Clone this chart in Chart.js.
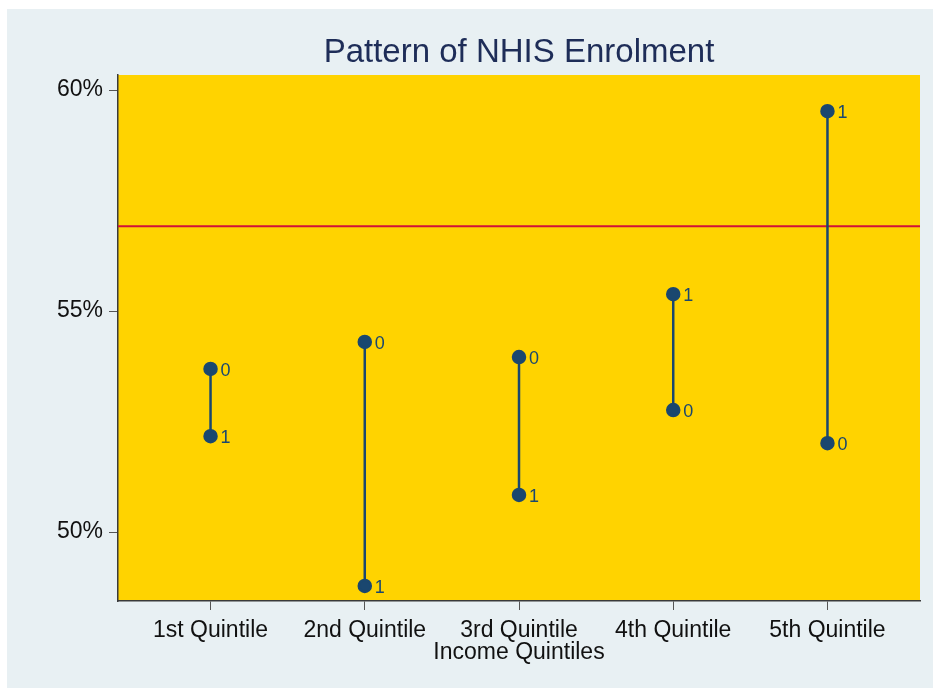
<!DOCTYPE html>
<html>
<head>
<meta charset="utf-8">
<script src="https://cdn.jsdelivr.net/npm/chart.js@4"></script>
<style>
  body { margin: 0; background: #fff; }
  #wrap { position: absolute; left: 7px; top: 9px; width: 926px; height: 679px; background: #e8f0f3; }
</style>
</head>
<body>
<div id="wrap"><canvas id="myChart"></canvas></div>
<script>
// values (percent enrolled)
var quintiles = ['1st Quintile', '2nd Quintile', '3rd Quintile', '4th Quintile', '5th Quintile'];
var group0 = [53.69, 54.30, 53.96, 52.76, 52.01];
var group1 = [52.17, 48.78, 50.84, 55.38, 59.52];
var overallMean = 56.92;
var yTicks = [50, 55, 60];

var navy = '#1a476f';
var font = "'Liberation Sans', Arial, sans-serif";

var datasets = [];
// red reference line, drawn behind the range lines
datasets.push({
  label: 'mean',
  data: [{x: 0.4, y: overallMean}, {x: 5.6, y: overallMean}],
  showLine: true,
  borderColor: '#d0103a',
  borderWidth: 2,
  pointRadius: 0,
  order: 5
});
quintiles.forEach(function(q, i){
  datasets.push({
    label: q,
    data: [{x: i + 1, y: group0[i], tag: '0'}, {x: i + 1, y: group1[i], tag: '1'}],
    showLine: true,
    borderColor: navy,
    borderWidth: 2.5,
    pointRadius: 6,
    pointBackgroundColor: navy,
    pointBorderColor: navy,
    order: 1
  });
});

var plotBg = {
  id: 'plotBg',
  beforeDraw: function(chart){
    var a = chart.chartArea, c = chart.ctx;
    c.save();
    c.fillStyle = '#ffd300';
    c.fillRect(a.left, a.top, a.right - a.left, a.bottom - a.top);
    c.restore();
  }
};

var texts = {
  id: 'texts',
  afterDatasetsDraw: function(chart){
    var c = chart.ctx, a = chart.chartArea;
    c.save();
    // marker labels
    c.font = '18px ' + font;
    c.fillStyle = navy;
    c.textAlign = 'left';
    c.textBaseline = 'middle';
    chart.data.datasets.forEach(function(ds, di){
      if (di === 0) return;
      var meta = chart.getDatasetMeta(di);
      meta.data.forEach(function(pt, pi){
        c.fillText(ds.data[pi].tag, pt.x + 10, pt.y + 2);
      });
    });
    // title + x axis title
    var cx = (a.left + a.right) / 2;
    c.textAlign = 'center';
    c.fillStyle = '#1e2d58';
    c.font = '33px ' + font;
    c.fillText('Pattern of NHIS Enrolment', cx, 44);
    c.fillStyle = '#111';
    c.font = '23px ' + font;
    c.fillText('Income Quintiles', cx, 644);
    c.restore();
  }
};

var ctx = document.getElementById('myChart').getContext('2d');
var chart = new Chart(ctx, {
  type: 'scatter',
  data: { datasets: datasets },
  options: {
    responsive: true,
    maintainAspectRatio: false,
    animation: false,
    layout: { padding: { top: 66, right: 13, left: 0, bottom: 0 } },
    plugins: { legend: { display: false }, tooltip: { enabled: false } },
    scales: {
      x: {
        type: 'linear',
        min: 0.4,
        max: 5.6,
        afterBuildTicks: function(s){ s.ticks = quintiles.map(function(q, i){ return {value: i + 1}; }); },
        afterFit: function(s){ s.height = 87; },
        ticks: {
          callback: function(v){ return quintiles[v - 1]; },
          color: '#111',
          font: { size: 23, family: font },
          padding: 7,
          maxRotation: 0,
          autoSkip: false
        },
        grid: { drawOnChartArea: false, tickLength: 9, color: '#555' },
        border: { color: '#3a3a3a', width: 1.5 }
      },
      y: {
        min: 48.44,
        max: 60.34,
        afterBuildTicks: function(s){ s.ticks = yTicks.map(function(v){ return {value: v}; }); },
        afterFit: function(s){ s.width = 111; },
        ticks: {
          callback: function(v){ return v + '%'; },
          color: '#111',
          font: { size: 23, family: font },
          padding: 6
        },
        grid: { drawOnChartArea: false, tickLength: 9, color: '#555' },
        border: { color: '#3a3a3a', width: 1.5 }
      }
    }
  },
  plugins: [plotBg, texts]
});
</script>
</body>
</html>
